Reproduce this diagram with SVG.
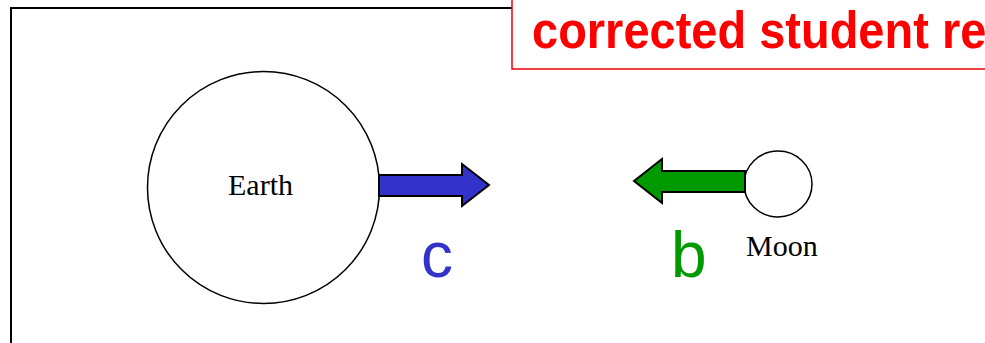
<svg xmlns="http://www.w3.org/2000/svg" width="985" height="343" viewBox="0 0 985 343">
<style>
.body{fill:#fff;stroke:#000;stroke-width:1.5}
.lbl{font-family:"Liberation Serif",serif;font-size:30px;fill:#000}
.big{font-family:"Liberation Sans",Arial,sans-serif;font-size:64px}
.arrow{stroke:#000;stroke-width:2;stroke-linejoin:miter}
</style>
<rect width="985" height="343" fill="#fff"/>
<rect id="frame" x="11" y="8" width="1000" height="360" fill="none" stroke="#000" stroke-width="2"/>
<g id="title">
<rect x="512" y="-10" width="500" height="79" fill="#fff" stroke="#e00" stroke-width="1.5"/>
<text transform="translate(532,48) scale(1,1.1)" x="0" y="0" font-family="Liberation Sans,Arial,sans-serif" font-weight="bold" font-size="47" fill="#ff0000">corrected student re</text>
</g>
<g id="earth">
<circle class="body" cx="263.5" cy="187.5" r="116"/>
<text class="lbl" x="260.5" y="195" text-anchor="middle">Earth</text>
</g>
<g id="moon">
<ellipse class="body" cx="778" cy="184" rx="34" ry="33"/>
<text class="lbl" x="746" y="256">Moon</text>
</g>
<g id="connectors">
<path class="arrow" fill="#3333cc" d="M379,175 L462,175 L462,164 L489,185 L462,206 L462,196 L379,196 Z"/>
<path class="arrow" fill="#009900" d="M745,171 L662,171 L662,159 L634,181 L662,203 L662,192 L745,192 Z"/>
</g>
<g id="labels">
<text class="big" x="421" y="277" fill="#3333cc">c</text>
<text class="big" x="671" y="277" fill="#009900">b</text>
</g>
</svg>
